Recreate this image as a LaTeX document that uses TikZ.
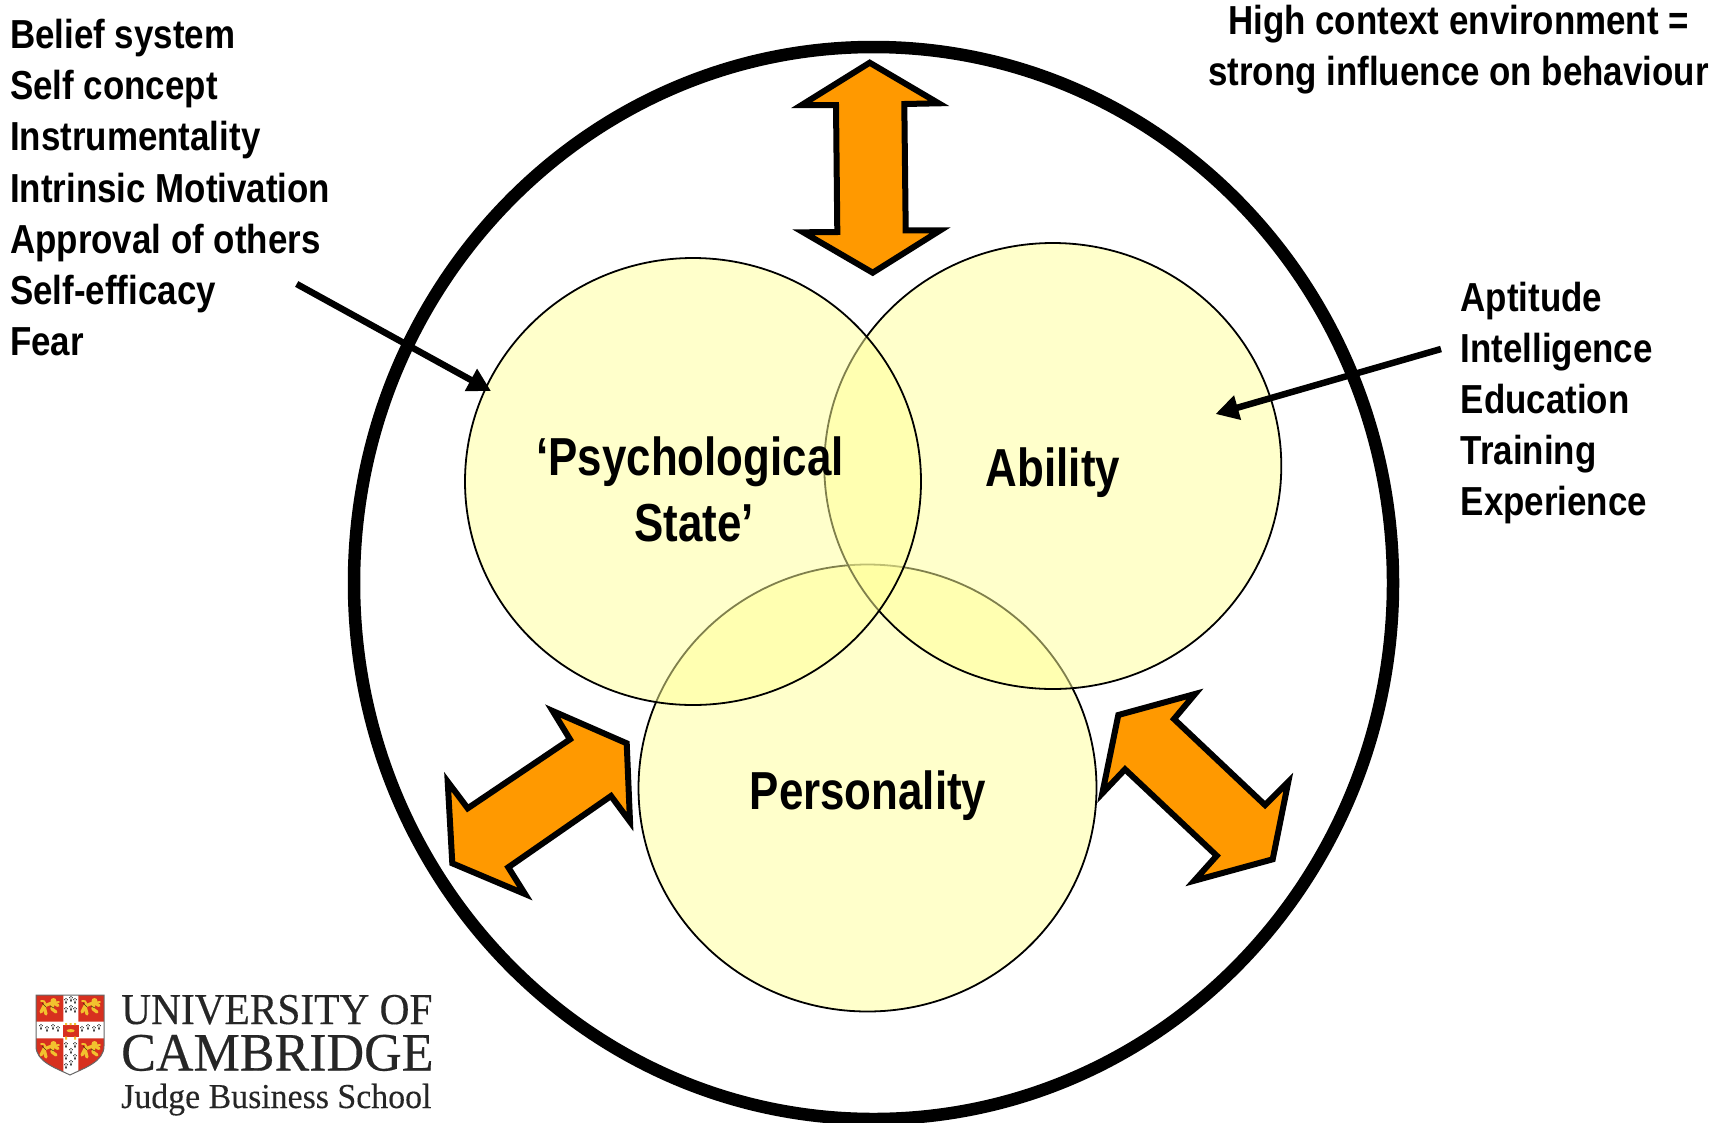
\documentclass[tikz,border=0pt]{standalone}
\usepackage{fontspec}
\usetikzlibrary{shapes.geometric,arrows.meta}
\newfontfamily\narrowface[FakeStretch=0.862]{Liberation Sans}
\newfontfamily\mainface[FakeStretch=0.82]{Liberation Sans}
\newfontfamily\logoone[FakeStretch=0.94,FakeBold=0.25]{Liberation Serif}
\newfontfamily\logotwo[FakeStretch=0.964,FakeBold=0.35]{Liberation Serif}
\newfontfamily\logothree[FakeStretch=0.967,FakeBold=0.2]{Liberation Serif}
\definecolor{blobfill}{HTML}{FFFF99}
\definecolor{bigarrow}{HTML}{FF9900}
\definecolor{logotext}{HTML}{262626}
\definecolor{shieldred}{HTML}{D7301F}
\definecolor{lion}{HTML}{F2C12E}
\tikzset{
  blob/.style={ellipse,draw=black,line width=1.8pt,fill=blobfill,fill opacity=.5,inner sep=0pt,outer sep=0pt},
  ringline/.style={draw=black,line width=12.5pt},
  twohead/.style={draw=black,fill=bigarrow,line width=6pt,miter limit=12,line join=miter},
  pointer/.style={draw=black,line width=6.5pt,-{Triangle[length=23pt,width=24pt]}},
  listtext/.style={font=\narrowface\bfseries\fontsize{40.5}{51.2}\selectfont,align=left,inner sep=0pt,anchor=north west},
  headtext/.style={font=\narrowface\bfseries\fontsize{40.5}{50.5}\selectfont,align=center,inner sep=0pt,anchor=north},
  maintext/.style={font=\mainface\bfseries\fontsize{53.5}{66}\selectfont,align=center,inner sep=0pt,anchor=base},
  logoline/.style={text=logotext,inner sep=0pt,anchor=base west,text depth=0pt},
  ermine/.pic={\fill[black] (0,0) -- (-.9,3.4) -- (.9,3.4) -- cycle; \fill[black] (0,-1.5) circle (.55) (-1.3,-.3) circle (.55) (1.3,-.3) circle (.55);},
  lionpic/.pic={
    \draw[lion,line width=3.2pt,line cap=round,line join=round] (-6,-3) -- (3,-6.5) (-6,-3) -- (-9,3) (-6,-3) -- (-4,5) (3,-6.5) -- (8,-3.5) (3,-6.5) -- (2,0) -- (6,3);
    \draw[lion,line width=1.8pt,line cap=round] (-6,-3) .. controls (-3,-9) and (-8,-8) .. (-9,-8) (3,-6.5) -- (9,-7);
    \fill[lion] (3.5,-8) circle (3);
    \draw[black!70!lion,line width=.5pt] (-8,-6) -- (-4,-2) (0,-3) -- (4,-1);
  }
}
\begin{document}
\begin{tikzpicture}[x=1pt,y=-1pt]
\useasboundingbox (0,0) rectangle (1723,1122);
\fill[white] (0,0) rectangle (1723,1122);
% environment ring
\node[ellipse,ringline,minimum width=1039pt,minimum height=1072pt,inner sep=0pt,outer sep=0pt] (ring) at (873.5,583) {};
% overlapping circles
\node[blob,minimum width=458pt,minimum height=447pt] (personality) at (867.5,788) {};
\node[blob,minimum width=457pt,minimum height=446pt] (ability) at (1052.8,466) {};
\node[blob,minimum width=456pt,minimum height=447pt] (psych) at (693,481.5) {};
% labels
\node[maintext] (psychlabel) at (690,541) {‘Psychological\\\hspace*{8pt}State’};
\node[maintext] (abilitylabel) at (1053,486) {Ability};
\node[maintext] (personalitylabel) at (868,809) {Personality};
\node[listtext] (beliefs) at (10,19) {Belief system\\Self concept\\Instrumentality\\Intrinsic Motivation\\Approval of others\\Self-efficacy\\Fear};
\node[listtext] (aptitudes) at (1460.5,281.5) {Aptitude\\Intelligence\\Education\\Training\\Experience};
\node[headtext] (context) at (1458.5,5) {High context environment =\\strong influence on behaviour};
% pointers
\coordinate (beliefstart) at (296.7,284);
\coordinate (belieftip) at (491,391);
\coordinate (aptstart) at (1441,349);
\coordinate (apttip) at (1215.5,414);
\draw[pointer] (beliefstart) -- (belieftip);
\draw[pointer] (aptstart) -- (apttip);
% double-headed block arrows
\draw[twohead] (869.7,62.7) -- (938.7,103.3) -- (904.3,104) -- (905.7,230.3) -- (940.3,230.3) -- (872.7,272.7) -- (803.3,232.3) -- (837.3,232) -- (836,105) -- (801.7,105) -- cycle;
\draw[twohead] (626.7,743.3) -- (630,821.7) -- (611,796) -- (508.3,867.3) -- (525,894) -- (452.3,863.3) -- (447.7,781.7) -- (467.7,808.3) -- (570,739.3) -- (552.7,711) -- cycle;
\draw[twohead] (1195,694) -- (1174,719) -- (1265,805) -- (1288.3,781.7) -- (1272.7,859.3) -- (1194.3,880.7) -- (1216.7,855.7) -- (1125,769.3) -- (1102.3,793.3) -- (1118.3,715) -- cycle;
% logo: shield
\begin{scope}
  \path[clip] (36,995) -- (104,995) -- (104,1046) .. controls (104,1062) and (84,1068) .. (70,1075) .. controls (56,1068) and (36,1062) .. (36,1046) -- cycle;
  \fill[white] (36,995) rectangle (104,1076);
  \fill[shieldred] (36,995) rectangle (63.3,1021.7) (78.3,995) rectangle (104,1021.7) (36,1038.3) rectangle (63.3,1076) (78.3,1038.3) rectangle (104,1076);
  \pic at (50,1009) {lionpic};
  \pic at (91,1009) {lionpic};
  \pic at (50,1052) {lionpic};
  \pic at (91,1052) {lionpic};
  \foreach \ex/\ey in {66/1000,71/998,75/1000,66/1009,71/1007,75/1009,41/1026,47/1028,53/1026,58/1028,82/1028,88/1026,94/1028,99/1026,66/1044,75/1044,71/1050,66/1056,75/1056,71/1062,66/1065}
    \pic at (\ex,\ey) {ermine};
  \fill[shieldred] (62.5,1025) rectangle (79,1036.5);
  \fill[lion] (65,1023) rectangle (67,1025) (69.5,1023) rectangle (71.5,1025) (74,1023) rectangle (76,1025) (65,1036.5) rectangle (67,1039.5) (74,1036.5) rectangle (76,1039.5);
  \fill[lion] (70.7,1030.7) ellipse (4 and 1.6);
\end{scope}
\draw[black!60,line width=1pt] (36,995) -- (104,995) -- (104,1046) .. controls (104,1062) and (84,1068) .. (70,1075) .. controls (56,1068) and (36,1062) .. (36,1046) -- cycle;
% logo: text
\node[logoline,font=\logoone\fontsize{44}{44}\selectfont] (logouni) at (121,1024) {UNIVERSITY OF};
\node[logoline,font=\logotwo\fontsize{54}{54}\selectfont] (logocam) at (121,1070.5) {CAMBRIDGE};
\node[logoline,font=\logothree\fontsize{35}{35}\selectfont] (logojudge) at (121,1108) {Judge Business School};
\end{tikzpicture}
\end{document}
